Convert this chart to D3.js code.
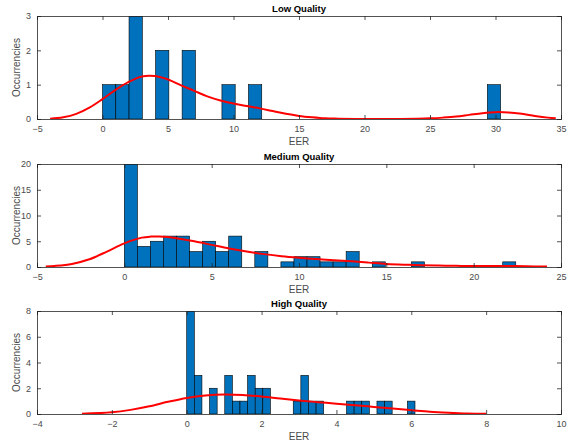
<!DOCTYPE html>
<html>
<head>
<meta charset="utf-8">
<script src="https://cdn.jsdelivr.net/npm/d3@7"></script>
<style>
  body { margin: 0; background: #fff; }
  text { font-family: "Liberation Sans", Arial, sans-serif; }
</style>
</head>
<body>
<svg id="chart" width="568" height="441"></svg>
<script>
// --- Low Quality ---
const lowXDomain = [-5, 35]
const lowXTicks = [-5, 0, 5, 10, 15, 20, 25, 30, 35]
const lowYTicks = [0, 1, 2, 3]
const lowYMax = 3
const lowBinStart = 0
const lowBinWidth = 1.013
const lowCounts = [1, 1, 3, 0, 2, 0, 2, 0, 0, 1, 0, 1, 0, 0, 0, 0, 0, 0, 0, 0, 0, 0, 0, 0, 0, 0, 0, 0, 0, 1]
const lowCurveX = [-4, -3, -2, -1, 0, 1, 2, 3, 4, 5, 6, 7, 8, 9, 10, 11, 12, 13, 14, 15, 16, 17, 18, 20, 22, 24, 25, 26, 27, 28, 29, 30, 31, 32, 33, 34, 34.6]
const lowCurveY = [0.01, 0.05, 0.15, 0.33, 0.58, 0.85, 1.08, 1.24, 1.25, 1.15, 0.98, 0.82, 0.66, 0.54, 0.45, 0.38, 0.31, 0.23, 0.15, 0.09, 0.05, 0.02, 0.01, 0, 0, 0.01, 0.02, 0.04, 0.07, 0.12, 0.17, 0.2, 0.19, 0.15, 0.09, 0.04, 0.02]

// --- Medium Quality ---
const medXDomain = [-5, 25]
const medXTicks = [-5, 0, 5, 10, 15, 20, 25]
const medYTicks = [0, 5, 10, 15, 20]
const medYMax = 20
const medBinStart = 0
const medBinWidth = 0.747
const medCounts = [20, 4, 5, 6, 6, 3, 5, 3, 6, 0, 3, 0, 1, 2, 2, 1, 1, 3, 0, 1, 0, 0, 1, 0, 0, 0, 0, 0, 0, 1]
const medCurveX = [-4.5, -4, -3, -2, -1, 0, 1, 1.5, 2, 3, 4, 5, 6, 7, 8, 9, 10, 11, 12, 13, 14, 15, 16, 17, 18, 19, 20, 21, 22, 23, 24.2]
const medCurveY = [0.1, 0.2, 0.6, 1.5, 3.0, 4.6, 5.7, 5.9, 5.9, 5.6, 5.0, 4.3, 3.6, 3.0, 2.5, 2.1, 1.8, 1.55, 1.3, 1.1, 0.85, 0.6, 0.45, 0.35, 0.28, 0.22, 0.2, 0.2, 0.2, 0.15, 0.08]

// --- High Quality ---
const highXDomain = [-4, 10]
const highXTicks = [-4, -2, 0, 2, 4, 6, 8, 10]
const highYTicks = [0, 2, 4, 6, 8]
const highYMax = 8
const highBinStart = 0
const highBinWidth = 0.2033
const highCounts = [8, 3, 0, 2, 0, 3, 1, 1, 3, 2, 2, 0, 0, 0, 1, 3, 1, 1, 0, 0, 0, 1, 1, 1, 0, 1, 1, 0, 0, 1]
const highCurveX = [-2.8, -2, -1.5, -1, -0.5, 0, 0.5, 1, 1.5, 2, 2.5, 3, 3.5, 4, 4.5, 5, 5.5, 6, 6.5, 7, 7.5, 8]
const highCurveY = [0.02, 0.13, 0.32, 0.6, 0.95, 1.25, 1.44, 1.52, 1.48, 1.36, 1.2, 1.05, 0.92, 0.8, 0.68, 0.55, 0.42, 0.3, 0.18, 0.1, 0.04, 0.01]

const panels = [
  {title: 'Low Quality', xd: lowXDomain, xt: lowXTicks, yt: lowYTicks, ymax: lowYMax,
   b0: lowBinStart, bw: lowBinWidth, counts: lowCounts, cx: lowCurveX, cy: lowCurveY, top: 16},
  {title: 'Medium Quality', xd: medXDomain, xt: medXTicks, yt: medYTicks, ymax: medYMax,
   b0: medBinStart, bw: medBinWidth, counts: medCounts, cx: medCurveX, cy: medCurveY, top: 164},
  {title: 'High Quality', xd: highXDomain, xt: highXTicks, yt: highYTicks, ymax: highYMax,
   b0: highBinStart, bw: highBinWidth, counts: highCounts, cx: highCurveX, cy: highCurveY, top: 311}
]

const left = 37, right = 561, h = 103
const svg = d3.select('#chart')
const axisColor = '#262626'
const labelColor = '#4a4a4a'

panels.forEach((p, pi) => {
  const x = d3.scaleLinear().domain(p.xd).range([left, right])
  const y = d3.scaleLinear().domain([0, p.ymax]).range([p.top + h, p.top])
  const g = svg.append('g')

  const clipId = 'clip' + pi
  g.append('clipPath').attr('id', clipId)
    .append('rect').attr('x', left).attr('y', p.top).attr('width', right - left).attr('height', h)

  // bars
  const bars = p.counts.map((c, i) => ({x0: p.b0 + i * p.bw, x1: p.b0 + (i + 1) * p.bw, c}))
    .filter(d => d.c > 0)
  g.append('g').attr('clip-path', `url(#${clipId})`)
    .selectAll('rect').data(bars).enter().append('rect')
      .attr('x', d => x(d.x0))
      .attr('y', d => y(d.c))
      .attr('width', d => x(d.x1) - x(d.x0))
      .attr('height', d => y(0) - y(d.c))
      .attr('fill', '#0072BD')
      .attr('stroke', '#000')
      .attr('stroke-width', 0.6)

  // fitted curve
  const pts = p.cx.map((v, i) => [v, p.cy[i]])
  g.append('path')
    .datum(pts)
    .attr('clip-path', `url(#${clipId})`)
    .attr('d', d3.line().x(d => x(d[0])).y(d => y(d[1])).curve(d3.curveCatmullRom))
    .attr('fill', 'none')
    .attr('stroke', '#ff0000')
    .attr('stroke-width', 2)

  // axes (ticks inward, MATLAB box style)
  const xAxis = d3.axisBottom(x).tickValues(p.xt).tickSize(-4).tickPadding(7).tickFormat(d3.format('d'))
  const xTop = d3.axisTop(x).tickValues(p.xt).tickSize(-4).tickFormat('')
  const yAxis = d3.axisLeft(y).tickValues(p.yt).tickSize(-4).tickPadding(6).tickFormat(d3.format('d'))
  const yRight = d3.axisRight(y).tickValues(p.yt).tickSize(-4).tickFormat('')

  const styleAxis = sel => {
    sel.selectAll('path').attr('stroke', axisColor).attr('stroke-width', 0.8)
    sel.selectAll('line').attr('stroke', axisColor).attr('stroke-width', 0.8)
    sel.selectAll('text').attr('fill', labelColor).style('font-size', '9px')
  }
  g.append('g').attr('transform', `translate(0,${p.top + h})`).call(xAxis).call(styleAxis)
  g.append('g').attr('transform', `translate(0,${p.top})`).call(xTop).call(styleAxis)
  g.append('g').attr('transform', `translate(${left},0)`).call(yAxis).call(styleAxis)
  g.append('g').attr('transform', `translate(${right},0)`).call(yRight).call(styleAxis)

  // title
  g.append('text')
    .attr('x', (left + right) / 2).attr('y', p.top - 4)
    .attr('text-anchor', 'middle')
    .style('font-size', '9.5px').style('font-weight', 'bold')
    .attr('fill', '#000')
    .text(p.title)

  // x label
  g.append('text')
    .attr('x', (left + right) / 2).attr('y', p.top + h + 26)
    .attr('text-anchor', 'middle')
    .style('font-size', '10px')
    .attr('fill', labelColor)
    .text('EER')

  // y label
  g.append('text')
    .attr('transform', `translate(${20},${p.top + h / 2}) rotate(-90)`)
    .attr('text-anchor', 'middle')
    .style('font-size', '10px')
    .attr('fill', labelColor)
    .text('Occurrencies')
})
</script>
</body>
</html>
